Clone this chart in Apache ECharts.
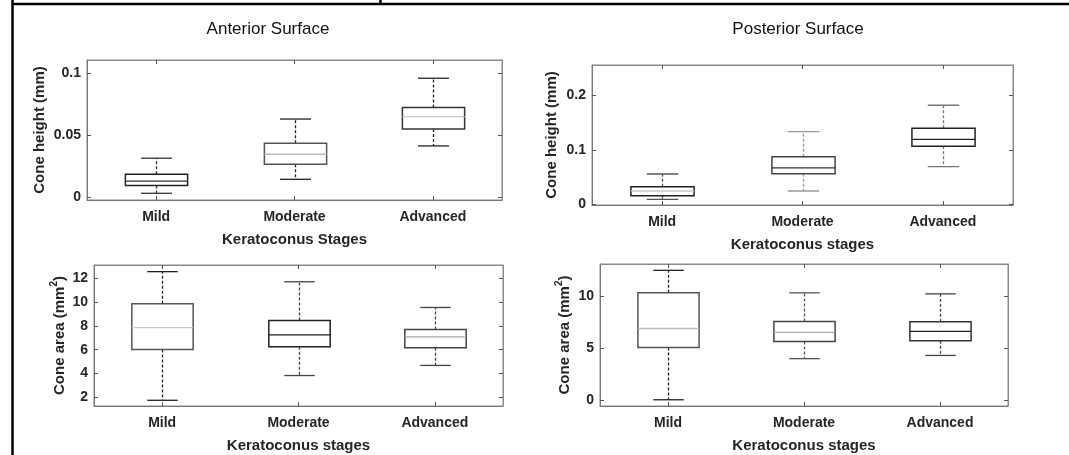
<!DOCTYPE html>
<html>
<head>
<meta charset="utf-8">
<script src="https://cdn.jsdelivr.net/npm/echarts@6/dist/echarts.min.js"></script>
<style>
  html, body { margin: 0; padding: 0; background: #fff; }
  #chart { width: 1069px; height: 455px; }
</style>
</head>
<body>
<div id="chart"></div>
<script>
// keratoconus stage boxplots: [min, q1, median, q3, max]
const stages = ['Mild', 'Moderate', 'Advanced'];

const anteriorHeight = [
    [0.0032, 0.0094, 0.0131, 0.0185, 0.0315],
    [0.0145, 0.0266, 0.0347, 0.0435, 0.0631],
    [0.0414, 0.0551, 0.0650, 0.0723, 0.0960]
];
const posteriorHeight = [
    [0.0092, 0.0158, 0.0244, 0.0323, 0.0556],
    [0.0244, 0.0560, 0.0670, 0.0873, 0.1332],
    [0.0690, 0.1064, 0.1193, 0.1394, 0.1817]
];
const anteriorArea = [
    [1.75, 6.02, 7.86, 9.86, 12.56],
    [3.83, 6.24, 7.24, 8.45, 11.71],
    [4.68, 6.17, 7.08, 7.70, 9.55]
];
const posteriorArea = [
    [0.05, 5.08, 6.90, 10.33, 12.49],
    [4.00, 5.66, 6.52, 7.57, 10.33],
    [4.31, 5.72, 6.62, 7.54, 10.23]
];

const anteriorHeightTicks = [0, 0.05, 0.1];
const posteriorHeightTicks = [0, 0.1, 0.2];
const anteriorAreaTicks = [2, 4, 6, 8, 10, 12];
const posteriorAreaTicks = [0, 5, 10];

// greyscale of the original figure: [box edge, median, whisker]
const shades = [
    [['#222', '#333', '#333'], ['#555', '#bbb', '#222'], ['#333', '#c8c8c8', '#222']],
    [['#222', '#c8c8c8', '#555'], ['#444', '#333', '#999'], ['#222', '#222', '#777']],
    [['#555', '#c8c8c8', '#222'], ['#222', '#222', '#444'], ['#444', '#aaa', '#444']],
    [['#555', '#bbb', '#222'], ['#444', '#aaa', '#555'], ['#333', '#222', '#444']]
];

const FONT = '"Liberation Sans", Arial, sans-serif';
const INK = '#262626';

const panels = [
    { data: anteriorHeight, ticks: anteriorHeightTicks, min: -0.0022, max: 0.1107,
      grid: { left: 87, top: 60, width: 415, height: 140 },
      yName: 'Cone height (mm)', yGap: 40, xName: 'Keratoconus Stages' },
    { data: posteriorHeight, ticks: posteriorHeightTicks, min: -0.0013, max: 0.2556,
      grid: { left: 592, top: 65, width: 421, height: 140 },
      yName: 'Cone height (mm)', yGap: 33, xName: 'Keratoconus stages' },
    { data: anteriorArea, ticks: anteriorAreaTicks, min: 1.27, max: 13.12,
      grid: { left: 94, top: 265, width: 409, height: 141 },
      yName: 'Cone area (mm{sup|2})', yGap: 23, xName: 'Keratoconus stages' },
    { data: posteriorArea, ticks: posteriorAreaTicks, min: -0.55, max: 13.1,
      grid: { left: 600, top: 264, width: 408, height: 142 },
      yName: 'Cone area (mm{sup|2})', yGap: 24, xName: 'Keratoconus stages' }
];

const renderBox = (params, api) => {
    const i = api.value(0);
    const lo = api.coord([i, api.value(1)]);
    const q1 = api.coord([i, api.value(2)]);
    const md = api.coord([i, api.value(3)]);
    const q3 = api.coord([i, api.value(4)]);
    const hi = api.coord([i, api.value(5)]);
    const band = api.size([1, 0])[0];
    const half = band * 0.225;
    const cap = band * 0.112;
    const cx = Math.round(lo[0]) + 0.5;
    const [edge, median, whisker] = shades[params.seriesIndex][params.dataIndex];
    const line = (x1, y1, x2, y2, stroke, dash) => ({
        type: 'line',
        shape: { x1, y1, x2, y2 },
        style: { stroke, lineWidth: 1.3, lineDash: dash || null }
    });
    return {
        type: 'group',
        children: [
            line(cx, q3[1], cx, hi[1], whisker, [3, 2]),
            line(cx, q1[1], cx, lo[1], whisker, [3, 2]),
            line(cx - cap, hi[1], cx + cap, hi[1], whisker),
            line(cx - cap, lo[1], cx + cap, lo[1], whisker),
            {
                type: 'rect',
                shape: { x: cx - half, y: q3[1], width: 2 * half, height: q1[1] - q3[1] },
                style: { fill: '#fff', stroke: edge, lineWidth: 1.5 }
            },
            line(cx - half, md[1], cx + half, md[1], median)
        ]
    };
};

const grids = [], xAxes = [], yAxes = [], series = [];
panels.forEach((p, k) => {
    grids.push(Object.assign({ show: true, borderColor: '#8a8a8a', borderWidth: 1,
        backgroundColor: '#fff' }, p.grid));
    const tick = { show: true, inside: true, length: 4, alignWithLabel: true,
        lineStyle: { color: '#555' } };
    xAxes.push({
        type: 'category', gridIndex: k, data: stages, position: 'bottom',
        axisLine: { onZero: false, lineStyle: { color: '#777' } },
        axisTick: tick,
        axisLabel: { color: INK, fontFamily: FONT, fontWeight: 'bold', fontSize: 14, margin: 10 },
        name: p.xName, nameLocation: 'middle', nameGap: 32,
        nameTextStyle: { color: INK, fontFamily: FONT, fontWeight: 'bold', fontSize: 15 }
    });
    xAxes.push({
        type: 'category', gridIndex: k, data: stages, position: 'top',
        axisLine: { onZero: false, lineStyle: { color: '#8a8a8a' } },
        axisTick: tick, axisLabel: { show: false }
    });
    yAxes.push({
        type: 'value', gridIndex: k, min: p.min, max: p.max, position: 'left',
        splitLine: { show: false },
        axisLine: { show: true, onZero: false, lineStyle: { color: '#777' } },
        axisTick: { show: true, inside: true, length: 4, customValues: p.ticks,
            lineStyle: { color: '#555' } },
        axisLabel: { customValues: p.ticks, color: INK, fontFamily: FONT, fontWeight: 'bold',
            fontSize: 14, margin: 6 },
        name: p.yName, nameLocation: 'middle', nameGap: p.yGap,
        nameTextStyle: { color: INK, fontFamily: FONT, fontWeight: 'bold', fontSize: 15,
            rich: { sup: { fontFamily: FONT, fontWeight: 'bold', fontSize: 10, color: INK,
                verticalAlign: 'top', lineHeight: 22 } } }
    });
    yAxes.push({
        type: 'value', gridIndex: k, min: p.min, max: p.max, position: 'right',
        splitLine: { show: false },
        axisLine: { show: true, onZero: false, lineStyle: { color: '#8a8a8a' } },
        axisTick: { show: true, inside: true, length: 4, customValues: p.ticks,
            lineStyle: { color: '#555' } },
        axisLabel: { show: false }
    });
    series.push({
        type: 'custom', xAxisIndex: 2 * k, yAxisIndex: 2 * k,
        renderItem: renderBox, clip: false,
        data: p.data.map((d, i) => [i].concat(d))
    });
});

const chart = echarts.init(document.getElementById('chart'), null, { renderer: 'canvas' });
chart.setOption({
    animation: false,
    backgroundColor: '#fff',
    title: [
        { text: 'Anterior Surface', left: 263, top: 16, textAlign: 'center',
          textStyle: { fontFamily: FONT, fontWeight: 'normal', fontSize: 17, color: '#111' } },
        { text: 'Posterior Surface', left: 793, top: 16, textAlign: 'center',
          textStyle: { fontFamily: FONT, fontWeight: 'normal', fontSize: 17, color: '#111' } }
    ],
    graphic: [
        // table frame around the figure
        { type: 'line', shape: { x1: 12, y1: 4, x2: 1069, y2: 4 }, style: { stroke: '#000', lineWidth: 2.5 } },
        { type: 'line', shape: { x1: 12.5, y1: 0, x2: 12.5, y2: 455 }, style: { stroke: '#000', lineWidth: 2.5 } },
        { type: 'line', shape: { x1: 380.5, y1: 0, x2: 380.5, y2: 5 }, style: { stroke: '#000', lineWidth: 2.5 } }
    ],
    grid: grids,
    xAxis: xAxes,
    yAxis: yAxes,
    series: series
});
</script>
</body>
</html>
